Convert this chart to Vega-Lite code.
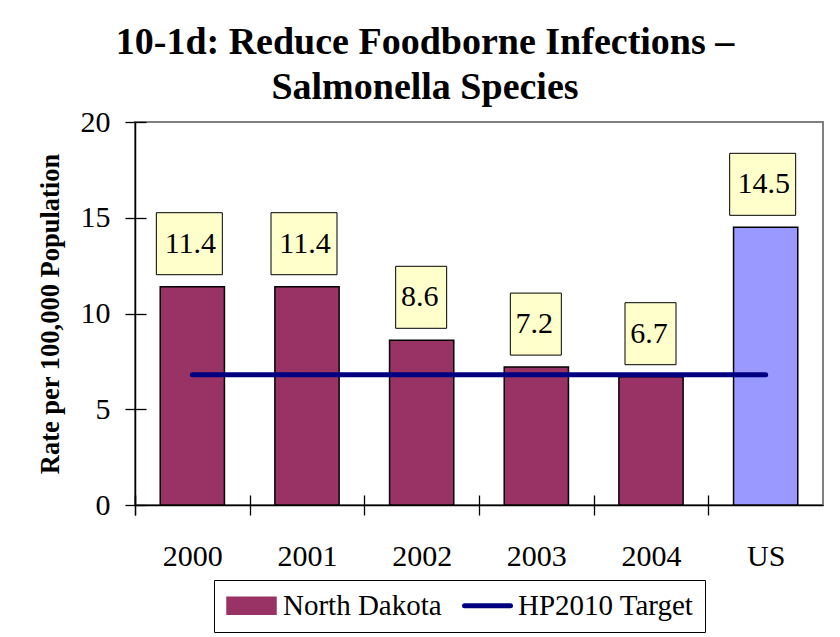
{
  "$schema": "https://vega.github.io/schema/vega-lite/v6.json",
  "width": 688,
  "height": 383,
  "autosize": {"type": "none"},
  "padding": {"left": 135, "top": 122, "right": 17, "bottom": 132},
  "background": "white",
  "title": {
    "text": ["10-1d: Reduce Foodborne Infections –", "Salmonella Species"],
    "font": "Liberation Serif",
    "fontSize": 38,
    "fontWeight": "bold",
    "lineHeight": 45,
    "anchor": "middle",
    "dx": -54,
    "offset": 0,
    "color": "black"
  },
  "config": {
    "view": {"stroke": "#808080", "strokeWidth": 2},
    "font": "Liberation Serif",
    "axis": {"grid": false, "labelFont": "Liberation Serif", "titleFont": "Liberation Serif"},
    "legend": {"labelFont": "Liberation Serif", "titleFont": "Liberation Serif"},
    "text": {"font": "Liberation Serif"}
  },
  "datasets": {
    "rates": [
      {"category": "2000", "rate": 11.4, "series": "North Dakota"},
      {"category": "2001", "rate": 11.4, "series": "North Dakota"},
      {"category": "2002", "rate": 8.6, "series": "North Dakota"},
      {"category": "2003", "rate": 7.2, "series": "North Dakota"},
      {"category": "2004", "rate": 6.7, "series": "North Dakota"},
      {"category": "US", "rate": 14.5, "series": "US"}
    ],
    "target": [
      {"category": "2000", "rate": 6.8, "series": "HP2010 Target"},
      {"category": "US", "rate": 6.8, "series": "HP2010 Target"}
    ]
  },
  "layer": [
    {
      "data": {"name": "rates"},
      "mark": {"type": "bar", "stroke": "black", "strokeWidth": 1.5},
      "encoding": {
        "x": {
          "field": "category", "type": "nominal", "sort": null,
          "scale": {"paddingInner": 0.44, "paddingOuter": 0.22},
          "axis": {
            "orient": "bottom", "bandPosition": 0, "tickOffset": -25.2, "tickExtra": true, "labelOffset": 25.2,
            "title": null, "labelAngle": 0,
            "domainColor": "black", "domainWidth": 1.5, "tickColor": "black", "tickWidth": 1.3,
            "tickSize": 10, "labelFont": "Liberation Serif", "labelFontSize": 30,
            "labelColor": "black", "labelPadding": 26
          }
        },
        "y": {
          "field": "rate", "type": "quantitative",
          "scale": {"domain": [0, 20], "nice": false},
          "axis": {
            "orient": "left", "values": [0, 5, 10, 15, 20],
            "domainColor": "black", "domainWidth": 1.5, "tickColor": "black", "tickWidth": 1.3,
            "tickSize": 10, "labelFont": "Liberation Serif", "labelFontSize": 30,
            "labelColor": "black", "labelPadding": 15,
            "title": "Rate per 100,000 Population", "titleFont": "Liberation Serif",
            "titleFontSize": 26.5, "titleFontWeight": "bold", "titleColor": "black", "titlePadding": 16
          }
        },
        "color": {
          "field": "series", "type": "nominal",
          "scale": {"domain": ["North Dakota", "US", "HP2010 Target"], "range": ["#993366", "#9999FF", "#000080"]},
          "legend": {
            "values": ["North Dakota", "HP2010 Target"],
            "title": null, "orient": "none", "legendX": 79, "legendY": 458,
            "direction": "horizontal",
            "labelFont": "Liberation Serif", "labelFontSize": 29, "labelColor": "black",
            "labelOffset": 29, "labelLimit": 0, "symbolSize": 400, "columnPadding": 12,
            "padding": 11, "strokeColor": "black", "fillColor": "white",
            "encoding": {
              "symbols": {
                "shape": {"value": {"expr": "datum.value === 'North Dakota' ? 'M-1.25,-0.85H3.65V0.85H-1.25Z' : 'M-1,0H3.6'"}},
                "fill": {"value": {"expr": "datum.value === 'North Dakota' ? '#993366' : 'transparent'"}},
                "stroke": {"value": {"expr": "datum.value === 'North Dakota' ? 'black' : '#000080'"}},
                "strokeWidth": {"value": {"expr": "datum.value === 'North Dakota' ? 1.5 : 5"}},
                "strokeCap": {"value": "round"},
                "opacity": {"value": 1}
              }
            }
          }
        }
      }
    },
    {
      "data": {"name": "target"},
      "mark": {"type": "line", "strokeWidth": 5, "strokeCap": "round"},
      "encoding": {
        "x": {
          "field": "category", "type": "nominal", "sort": null,
          "axis": {"orient": "bottom", "bandPosition": 0, "tickOffset": -25.2, "tickExtra": true, "tickSize": -10, "labels": false, "domain": false, "title": null, "tickColor": "black", "tickWidth": 1.3}
        },
        "y": {
          "field": "rate", "type": "quantitative",
          "axis": {"orient": "left", "values": [0, 5, 10, 15, 20], "tickSize": -11, "labels": false, "domain": false, "title": null, "tickColor": "black", "tickWidth": 1.3}
        },
        "color": {"field": "series", "type": "nominal"}
      }
    },
    {
      "data": {"name": "rates"},
      "mark": {"type": "point", "filled": true, "fill": "#FFFFCC", "stroke": "black", "strokeWidth": 1, "size": 4, "opacity": 1, "fillOpacity": 1},
      "encoding": {
        "x": {"field": "category", "type": "nominal", "sort": null, "axis": null},
        "y": {"field": "rate", "type": "quantitative", "axis": null},
        "shape": {
          "condition": {"test": "datum.rate >= 10", "value": "M-36,-74H30V-12H-36Z"},
          "value": "M-26,-74H25V-12H-26Z"
        }
      }
    },
    {
      "data": {"name": "rates"},
      "mark": {"type": "text", "font": "Liberation Serif", "fontSize": 30, "dy": -43, "dx": -2, "baseline": "middle", "color": "black"},
      "encoding": {
        "x": {"field": "category", "type": "nominal", "sort": null, "axis": null},
        "y": {"field": "rate", "type": "quantitative", "axis": null},
        "text": {"field": "rate", "type": "quantitative", "format": ".1f"}
      }
    }
  ],
  "resolve": {"axis": {"x": "independent", "y": "independent"}}
}
